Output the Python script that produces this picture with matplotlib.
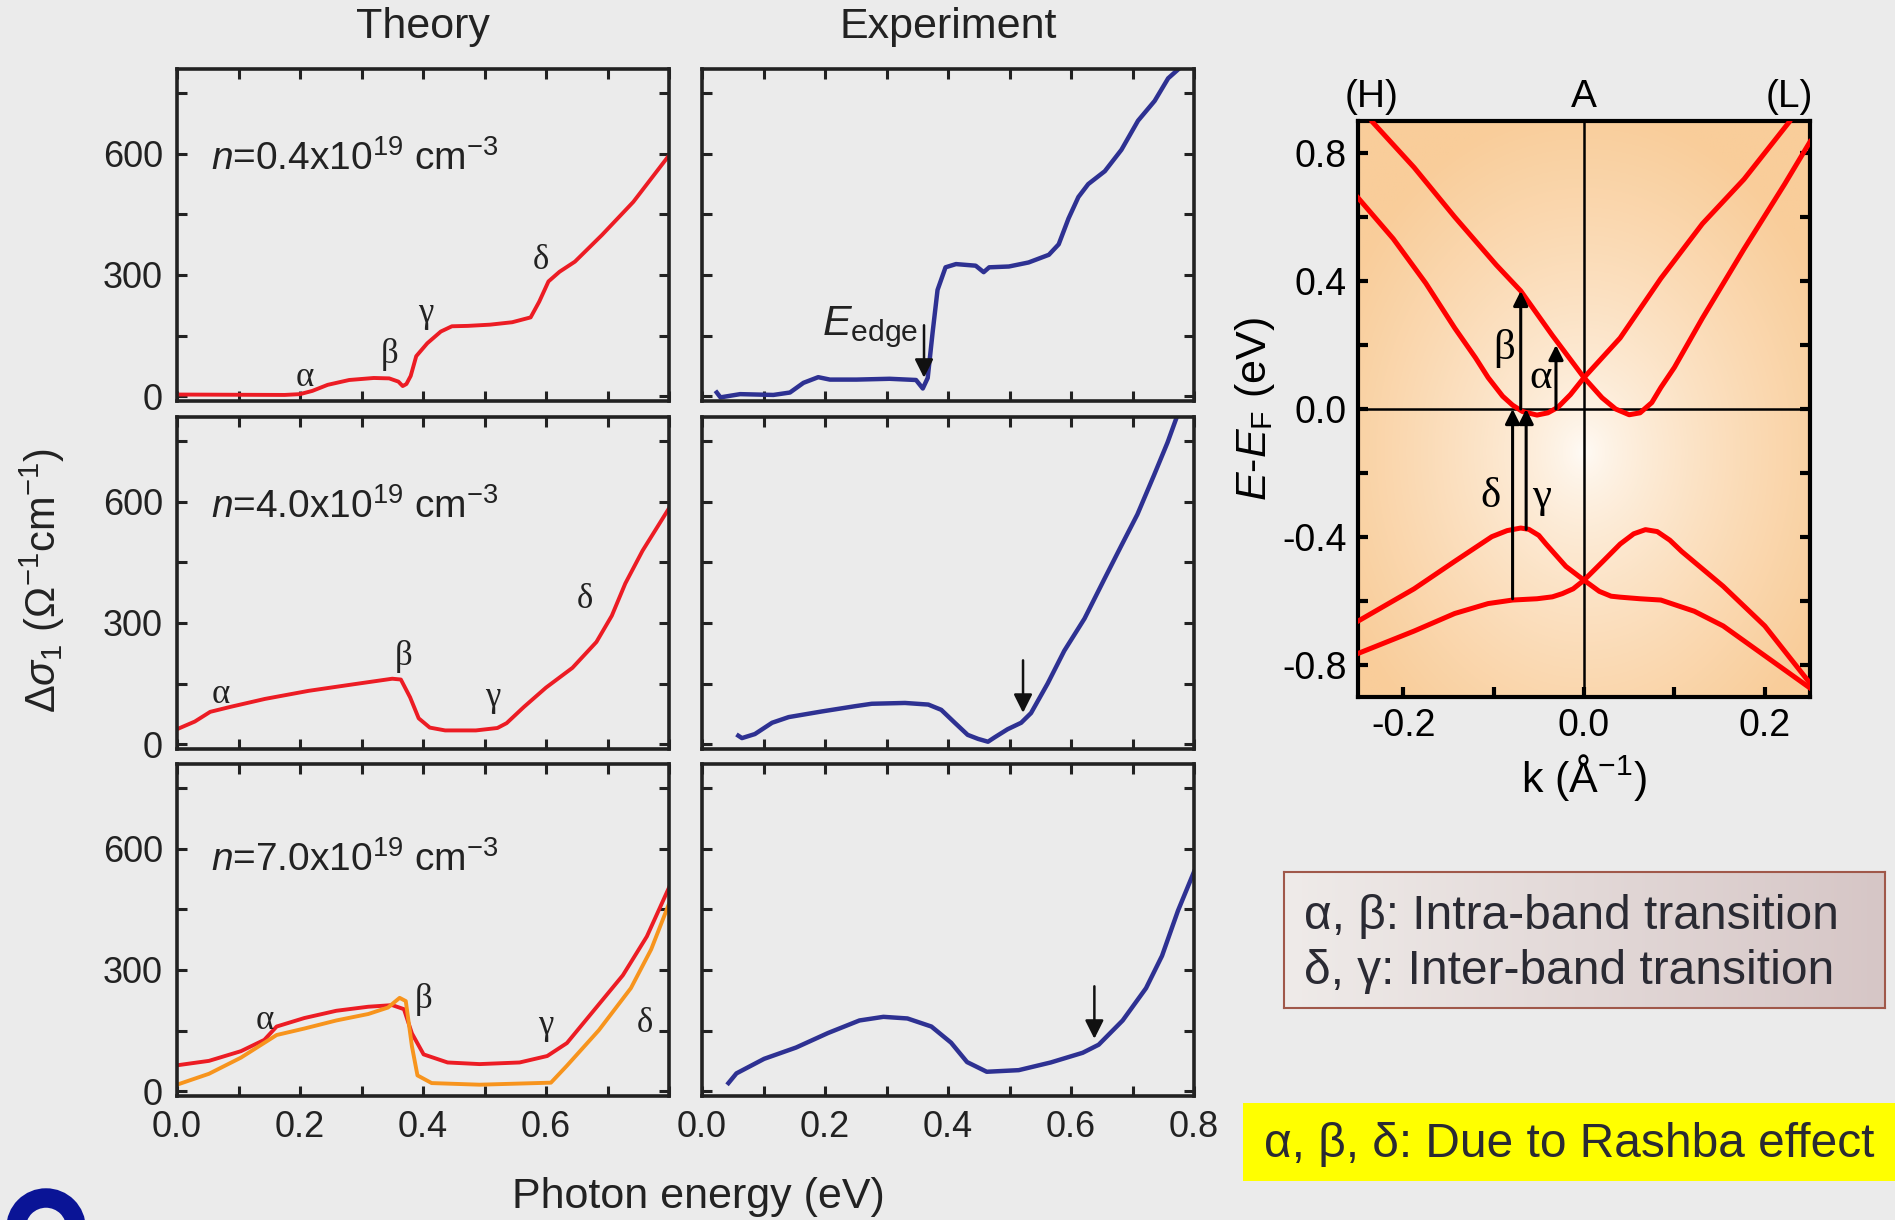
import numpy as np
import matplotlib.pyplot as plt
from matplotlib.colors import to_rgb
from matplotlib.patches import Circle

plt.rcParams['font.family'] = ['Liberation Sans', 'DejaVu Sans']
plt.rcParams['mathtext.fontset'] = 'custom'
plt.rcParams['mathtext.rm'] = 'Liberation Sans'
plt.rcParams['mathtext.it'] = 'Liberation Sans:italic'
plt.rcParams['mathtext.bf'] = 'Liberation Sans:bold'
plt.rcParams['axes.unicode_minus'] = False

# ---- theory, n = 0.4e19
th1_x = [0, 0.175, 0.2, 0.22, 0.245, 0.28, 0.32, 0.345, 0.36, 0.367, 0.373, 0.38, 0.389, 0.407,
         0.429, 0.447, 0.473, 0.509, 0.545, 0.575, 0.589, 0.604, 0.622, 0.647, 0.691, 0.742, 0.8]
th1_y = [4, 3, 5, 13, 28, 40, 45, 44, 36, 25, 30, 50, 99, 131, 160, 173, 174, 177, 183, 195,
         234, 284, 308, 333, 399, 481, 596]
# ---- experiment, n = 0.4e19
ex1_x = [0.024, 0.030, 0.062, 0.116, 0.143, 0.165, 0.189, 0.208, 0.251, 0.305, 0.348, 0.359,
         0.367, 0.375, 0.383, 0.396, 0.413, 0.445, 0.458, 0.467, 0.499, 0.531, 0.564, 0.580,
         0.596, 0.612, 0.628, 0.655, 0.682, 0.709, 0.736, 0.758, 0.775]
ex1_y = [9, -3, 5, 3, 9, 33, 47, 41, 41, 43, 40, 19, 45, 158, 263, 319, 327, 323, 307, 319,
         321, 331, 350, 376, 440, 493, 525, 557, 610, 682, 731, 787, 810]

# ---- theory, n = 4.0e19
th2_x = [0, 0.029, 0.054, 0.086, 0.143, 0.214, 0.286, 0.35, 0.364, 0.379, 0.393, 0.411, 0.436,
         0.486, 0.521, 0.536, 0.564, 0.6, 0.643, 0.682, 0.707, 0.729, 0.757, 0.8]
th2_y = [37, 56, 80, 92, 112, 132, 148, 162, 160, 116, 64, 41, 34, 34, 40, 52, 92, 140, 189,
         253, 318, 398, 479, 584]
# ---- experiment, n = 4.0e19
ex2_x = [0.059, 0.065, 0.086, 0.114, 0.141, 0.195, 0.249, 0.276, 0.33, 0.368, 0.389, 0.411,
         0.432, 0.449, 0.465, 0.476, 0.497, 0.519, 0.535, 0.562, 0.589, 0.622, 0.654, 0.681,
         0.708, 0.735, 0.757, 0.772]
ex2_y = [21, 15, 25, 53, 67, 81, 94, 100, 102, 98, 85, 53, 23, 13, 6, 17, 37, 53, 77, 150,
         231, 311, 408, 489, 569, 666, 747, 810]

# ---- theory, n = 7.0e19 (two curves)
th3a_x = [0, 0.052, 0.104, 0.142, 0.162, 0.207, 0.259, 0.311, 0.35, 0.369, 0.382, 0.401, 0.44,
          0.492, 0.557, 0.602, 0.634, 0.673, 0.725, 0.764, 0.8]
th3a_y = [64, 75, 99, 127, 160, 181, 199, 209, 213, 203, 143, 91, 71, 67, 71, 87, 119, 191,
          287, 383, 504]
th3b_x = [0, 0.052, 0.104, 0.162, 0.207, 0.259, 0.311, 0.343, 0.362, 0.372, 0.382, 0.391,
          0.414, 0.492, 0.608, 0.634, 0.686, 0.738, 0.771, 0.8]
th3b_y = [16, 43, 83, 139, 155, 175, 191, 207, 231, 223, 111, 39, 20, 16, 21, 63, 151, 255,
          351, 464]
# ---- experiment, n = 7.0e19
ex3_x = [0.043, 0.056, 0.101, 0.153, 0.205, 0.256, 0.295, 0.334, 0.373, 0.405, 0.431, 0.463,
         0.515, 0.567, 0.619, 0.645, 0.684, 0.722, 0.748, 0.774, 0.8]
ex3_y = [20, 44, 80, 108, 144, 175, 184, 180, 160, 120, 72, 48, 52, 71, 95, 115, 175, 255,
         335, 447, 543]

densities = ['0.4', '4.0', '7.0']
edge_arrows = [0.361, 0.522, 0.638]

# ---- band structure
kA = [-0.234, -0.188, -0.143, -0.097, -0.07, -0.035, 0, 0.02, 0.035, 0.05, 0.062, 0.075, 0.085,
      0.1, 0.131, 0.177, 0.222, 0.25]
eA = [0.897, 0.755, 0.6, 0.45, 0.369, 0.23, 0.098, 0.035, 0.0, -0.018, -0.012, 0.02, 0.067,
      0.13, 0.284, 0.5, 0.703, 0.835]
kB = [-0.25, -0.211, -0.175, -0.143, -0.12, -0.106, -0.09, -0.079, -0.068, -0.052, -0.04,
      -0.029, -0.015, 0, 0.04, 0.085, 0.131, 0.177, 0.227]
eB = [0.66, 0.532, 0.393, 0.253, 0.16, 0.098, 0.04, 0.012, -0.008, -0.019, -0.012, 0.005,
      0.045, 0.098, 0.222, 0.408, 0.579, 0.718, 0.897]
kV1 = [-0.25, -0.188, -0.143, -0.102, -0.085, -0.07, -0.061, -0.05, -0.042, -0.02, 0, 0.017,
       0.03, 0.04, 0.062, 0.085, 0.122, 0.154, 0.2, 0.25]
eV1 = [-0.663, -0.562, -0.476, -0.399, -0.38, -0.372, -0.376, -0.395, -0.422, -0.492, -0.535,
       -0.57, -0.585, -0.588, -0.593, -0.597, -0.632, -0.678, -0.771, -0.872]
kV2 = [-0.25, -0.188, -0.143, -0.106, -0.079, -0.052, -0.035, -0.024, -0.012, 0, 0.021, 0.04,
       0.055, 0.068, 0.081, 0.095, 0.108, 0.154, 0.2, 0.25]
eV2 = [-0.764, -0.694, -0.639, -0.608, -0.597, -0.593, -0.587, -0.577, -0.562, -0.535, -0.476,
       -0.422, -0.39, -0.377, -0.383, -0.41, -0.445, -0.554, -0.678, -0.857]

RED = '#ec1c24'
ORANGE = '#f7941d'
BLUE = '#2e3192'
BG = '#ebebeb'

fig = plt.figure(figsize=(18.95, 12.2), dpi=100, facecolor=BG)

col_left = [177 / 1895, 702 / 1895]
col_w = 492 / 1895
row_bot = [1 - 401 / 1220, 1 - 749 / 1220, 1 - 1096 / 1220]
row_h = 332 / 1220

theory = [[(th1_x, th1_y, RED)], [(th2_x, th2_y, RED)],
          [(th3a_x, th3a_y, RED), (th3b_x, th3b_y, ORANGE)]]
experiment = [(ex1_x, ex1_y), (ex2_x, ex2_y), (ex3_x, ex3_y)]

greek = [
    [('α', 0.207, 45), ('β', 0.345, 103), ('γ', 0.404, 205), ('δ', 0.591, 337)],
    [('α', 0.071, 124), ('β', 0.368, 217), ('γ', 0.514, 116), ('δ', 0.663, 358)],
    [('α', 0.142, 175), ('β', 0.401, 227), ('γ', 0.6, 163), ('δ', 0.761, 167)],
]
label_y = [560, 560, 545]


def style(ax, bottom_labels, left_labels, last_x=True):
    ax.set_facecolor('none')
    ax.set_xlim(0, 0.8)
    ax.set_ylim(-12, 810)
    ax.set_xticks([0, 0.2, 0.4, 0.6, 0.8])
    ax.set_xticks([0.1, 0.3, 0.5, 0.7], minor=True)
    ax.set_yticks([0, 300, 600])
    ax.set_yticks([150, 450, 750], minor=True)
    for s in ax.spines.values():
        s.set_linewidth(2.6)
        s.set_color('#222222')
    ax.tick_params(which='both', direction='in', top=True, right=True, length=7, width=2.2,
                   labelsize=26, pad=10, colors='#222222')
    if bottom_labels:
        labs = ['0.0', '0.2', '0.4', '0.6', '0.8' if last_x else '']
        ax.set_xticklabels(labs)
    else:
        ax.set_xticklabels([])
    if left_labels:
        ax.set_yticklabels(['0', '300', '600'])
    else:
        ax.set_yticklabels([])


for r in range(3):
    axt = fig.add_axes([col_left[0], row_bot[r], col_w, row_h])
    for xs, ys, c in theory[r]:
        axt.plot(xs, ys, color=c, lw=2.8)
    style(axt, r == 2, True, last_x=False)
    for g, gx, gy in greek[r]:
        axt.text(gx, gy, g, fontsize=25, family=['Liberation Serif', 'DejaVu Serif'],
                 ha='center', va='center', color='#222222')
    axt.text(0.055, label_y[r], r'$n$=' + densities[r] + r'x10$^{19}$ cm$^{-3}$',
             fontsize=28, ha='left', va='baseline', color='#222222')

    axe = fig.add_axes([col_left[1], row_bot[r], col_w, row_h])
    axe.plot(experiment[r][0], experiment[r][1], color=BLUE, lw=3.2, clip_on=True)
    style(axe, r == 2, False)
    yb = np.interp(edge_arrows[r], experiment[r][0], experiment[r][1])
    axe.annotate('', xy=(edge_arrows[r], yb + 20), xytext=(edge_arrows[r], yb + 150),
                 arrowprops=dict(arrowstyle='-|>', color='#111111', lw=1.8,
                                 mutation_scale=28, shrinkA=0, shrinkB=0))
    if r == 0:
        axe.text(0.352, 150, r'$E_{\mathrm{edge}}$', fontsize=31, ha='right', va='baseline',
                 color='#222222')

fig.text((177 + 669) / 2 / 1895, 1 - 27 / 1220, 'Theory', fontsize=31, ha='center',
         va='center', color='#222222')
fig.text((702 + 1195) / 2 / 1895, 1 - 27 / 1220, 'Experiment', fontsize=31, ha='center',
         va='center', color='#222222')
fig.text(698 / 1895, 1 - 1197 / 1220, 'Photon energy (eV)', fontsize=31, ha='center',
         va='center', color='#222222')
fig.text(42 / 1895, 1 - 580 / 1220, r'$\Delta\sigma_1$ ($\Omega^{-1}$cm$^{-1}$)', fontsize=30,
         rotation=90, ha='center', va='center', color='#222222')

# ---- band structure panel
axb = fig.add_axes([1358 / 1895, 1 - 697 / 1220, 452 / 1895, 576 / 1220])
gx, gy = np.meshgrid(np.linspace(-1, 1, 300), np.linspace(-1, 1, 300))
rr = np.clip(np.sqrt(gx ** 2 + (gy + 0.15) ** 2) / 1.2, 0, 1) ** 0.7
c0 = np.array(to_rgb('#fffcf8'))
c1 = np.array(to_rgb('#f9cd9a'))
img = c0[None, None, :] * (1 - rr[..., None]) + c1[None, None, :] * rr[..., None]
axb.imshow(img, extent=[-0.25, 0.25, -0.9, 0.9], aspect='auto', origin='lower', zorder=0)
axb.set_xlim(-0.25, 0.25)
axb.set_ylim(-0.9, 0.9)
axb.axhline(0, color='black', lw=1.8, zorder=1)
axb.axvline(0, color='black', lw=1.8, zorder=1)
for ks, es in [(kA, eA), (kB, eB), (kV1, eV1), (kV2, eV2)]:
    axb.plot(ks, es, color='#ff0000', lw=3.6, zorder=3, clip_on=True,
             solid_joinstyle='round')

transitions = [(-0.079, -0.593, 0.0), (-0.064, -0.376, 0.0), (-0.07, 0.0, 0.369),
               (-0.031, 0.0, 0.2)]
for kx, e0, e1 in transitions:
    axb.annotate('', xy=(kx, e1), xytext=(kx, e0),
                 arrowprops=dict(arrowstyle='-|>', color='black', lw=2.2, mutation_scale=22,
                                 shrinkA=0, shrinkB=0), zorder=4)
for g, kx, ey in [('β', -0.088, 0.19), ('α', -0.048, 0.098), ('δ', -0.103, -0.275),
                  ('γ', -0.047, -0.275)]:
    axb.text(kx, ey, g, fontsize=31, family=['Liberation Serif', 'DejaVu Serif'],
             ha='center', va='center', zorder=5)

axb.set_xticks([-0.2, 0.0, 0.2])
axb.set_xticks([-0.1, 0.1], minor=True)
axb.set_yticks([-0.8, -0.4, 0.0, 0.4, 0.8])
axb.set_yticks([-0.6, -0.2, 0.2, 0.6], minor=True)
axb.set_xticklabels(['-0.2', '0.0', '0.2'])
axb.set_yticklabels(['-0.8', '-0.4', '0.0', '0.4', '0.8'])
for s in axb.spines.values():
    s.set_linewidth(3)
axb.tick_params(which='both', direction='in', right=True, length=7, width=3, labelsize=27,
                pad=8)
axb.set_xlabel(r'k (Å$^{-1}$)', fontsize=31, labelpad=6)
axb.set_ylabel(r'$E$-$E_{\mathrm{F}}$ (eV)', fontsize=31, labelpad=4)
for lab, kx in [('(H)', -0.235), ('A', 0.0), ('(L)', 0.227)]:
    axb.text(kx, 0.92, lab, fontsize=28, ha='center', va='bottom')

# ---- text boxes
axbox = fig.add_axes([1284 / 1895, 1 - 1008 / 1220, 601 / 1895, 136 / 1220])
grad = np.linspace(0, 1, 200)[None, :, None]
ca = np.array(to_rgb('#efebe9'))
cb = np.array(to_rgb('#d6c6c6'))
axbox.imshow(ca * (1 - grad) + cb * grad, extent=[0, 1, 0, 1], aspect='auto')
axbox.set_xticks([])
axbox.set_yticks([])
for s in axbox.spines.values():
    s.set_color('#a0584a')
    s.set_linewidth(1.5)
axbox.text(0.033, 0.67, 'α, β: Intra-band transition', fontsize=34.5, ha='left',
           va='center', color='#2a2a33')
axbox.text(0.033, 0.27, 'δ, γ: Inter-band transition', fontsize=34.5, ha='left',
           va='center', color='#2a2a33')

axy = fig.add_axes([1243 / 1895, 1 - 1181 / 1220, 652 / 1895, 78 / 1220])
axy.set_facecolor('#ffff00')
axy.set_xticks([])
axy.set_yticks([])
for s in axy.spines.values():
    s.set_visible(False)
axy.text(0.032, 0.47, 'α, β, δ: Due to Rashba effect', fontsize=34.5, ha='left',
         va='center', color='#2a2a33')

# logo fragment in the corner
fig.patches.append(Circle((46, -8), 30, transform=None, facecolor='none',
                          edgecolor='#0a1496', lw=14))

fig.savefig('out.png', dpi=100, facecolor=BG)
